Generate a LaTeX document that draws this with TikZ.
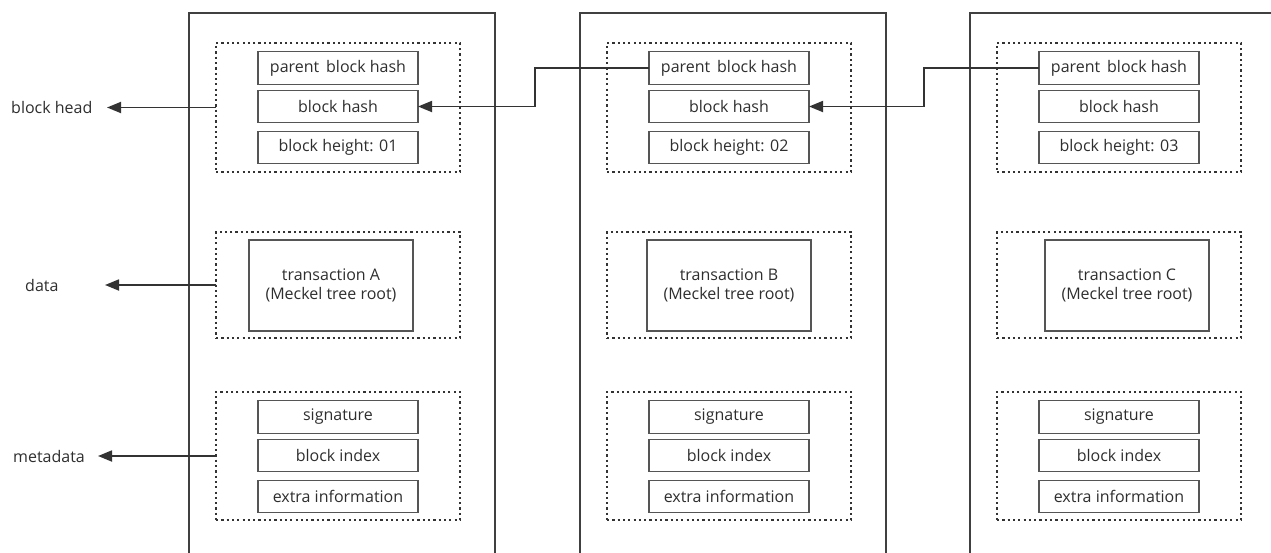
\documentclass[tikz,border=0pt]{standalone}
\usepackage{fontspec}
\setmainfont{Open Sans}
\usetikzlibrary{arrows.meta}
\definecolor{framecol}{HTML}{404040}
\definecolor{dotcol}{HTML}{333333}
\definecolor{fieldcol}{HTML}{555555}
\definecolor{txtcol}{HTML}{2E2E2E}
\begin{document}
\begin{tikzpicture}[x=1pt,y=-1pt,
  frame/.style={draw=framecol, line width=1.8pt, inner sep=0pt, outer sep=0pt},
  group/.style={draw=dotcol, line width=2pt, dash pattern=on 2.2pt off 3.1pt,
                inner sep=0pt, outer sep=0pt, minimum width=244pt},
  field/.style={draw=fieldcol, line width=1.2pt, inner sep=0pt, outer sep=0pt,
                minimum width=160pt, minimum height=32.5pt,
                font=\fontsize{16}{19}\selectfont, text=txtcol},
  txbox/.style={draw=fieldcol, line width=1.2pt, inner sep=0pt, outer sep=0pt,
                minimum width=164pt, minimum height=91pt, align=center,
                font=\fontsize{16}{19}\selectfont, text=txtcol},
  lbl/.style={font=\fontsize{16}{19}\selectfont, text=txtcol, inner sep=0pt},
  link/.style={draw=dotcol, line width=1.8pt, -{Triangle[length=14pt,width=11pt]}}
]
\useasboundingbox (0,0) rectangle (1271,552);
\clip (0,0) rectangle (1271,552);

% three blocks: left edge, transaction box centre offset, letter
\foreach \i/\L/\t/\n in {1/189/142/A, 2/580/149/B, 3/970/157/C}{
  % open-ended outer frame of the block
  \node[frame, minimum width=306pt, minimum height=587pt] (blk\i) at (\L+153,306.5) {};
  % block head
  \node[group, minimum height=129pt] (hd\i) at (\L+149,107.5) {};
  \node[field] (par\i) at (\L+149,68) {parent\, block hash};
  \node[field] (hash\i) at (\L+149,106.5) {block hash};
  \node[field] (hgt\i) at (\L+149,147.5) {block height: 0\i};
  % data
  \node[group, minimum height=106pt] (dt\i) at (\L+149,285) {};
  \node[txbox] (tx\i) at (\L+\t,285.5) {transaction \n\\(Meckel tree root)};
  % metadata
  \node[group, minimum height=128pt] (md\i) at (\L+149,456) {};
  \node[field] (sig\i) at (\L+149,417) {signature};
  \node[field] (idx\i) at (\L+149,455.5) {block index};
  \node[field] (ext\i) at (\L+149,496.5) {extra information};
}

% side labels
\node[lbl, anchor=west] (lhead) at (11,107) {block head};
\node[lbl, anchor=west] (ldata) at (25,285) {data};
\node[lbl, anchor=west] (lmeta) at (13,456) {metadata};
\coordinate (thead) at (107,0);
\coordinate (tdata) at (105,0);
\coordinate (tmeta) at (98,0);
\draw[link] (hd1.west) -- (hd1.west -| thead);
\draw[link] (dt1.west) -- (dt1.west -| tdata);
\draw[link] (md1.west) -- (md1.west -| tmeta);

% hash links between consecutive blocks
\coordinate (s12) at (535,0);
\coordinate (s23) at (924,0);
\draw[link] (par2.west) -- (par2.west -| s12) -- (hash1.east -| s12) -- (hash1.east);
\draw[link] (par3.west) -- (par3.west -| s23) -- (hash2.east -| s23) -- (hash2.east);
\end{tikzpicture}
\end{document}
